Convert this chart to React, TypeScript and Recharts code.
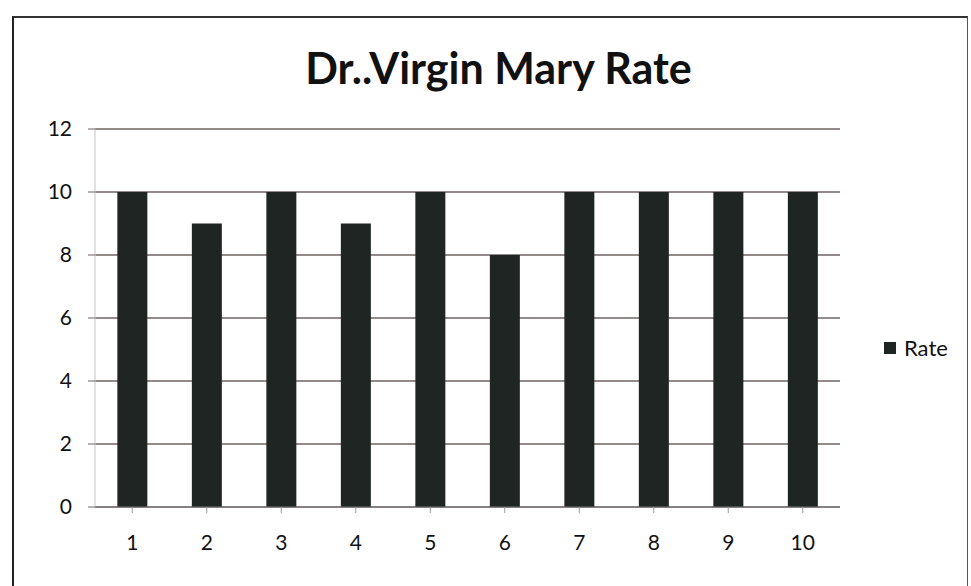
import { BarChart, Bar, XAxis, YAxis, CartesianGrid } from 'recharts'

const doctors = ['1', '2', '3', '4', '5', '6', '7', '8', '9', '10']
const rates = [10, 9, 10, 9, 10, 8, 10, 10, 10, 10]
const yTicks = [0, 2, 4, 6, 8, 10, 12]

const data = doctors.map((name, i) => ({ name, Rate: rates[i] }))

const font = 'Lato, "Open Sans", sans-serif'
const barColor = '#1f2523'

export default function App() {
  return (
    <div style={{ position: 'absolute', left: 0, top: 0, width: 971, height: 586, background: '#fff', overflow: 'hidden' }}>
      <div
        style={{
          position: 'absolute',
          left: 12,
          top: 16,
          width: 953,
          height: 600,
          borderLeft: '2px solid #222',
          borderTop: '2px solid #333',
          borderRight: '1px solid #555',
        }}
      />
      <div
        style={{
          position: 'absolute',
          left: 0,
          width: 971,
          top: 42,
          textAlign: 'center',
          fontFamily: font,
          fontWeight: 700,
          fontSize: 43,
          color: '#111',
          paddingLeft: 26,
          boxSizing: 'border-box',
        }}
      >
        Dr..Virgin Mary Rate
      </div>
      <div style={{ position: 'absolute', left: 0, top: 0 }}>
        <BarChart
          width={971}
          height={586}
          data={data}
          margin={{ top: 129, right: 131, left: 0, bottom: 29 }}
          barCategoryGap="30%"
        >
          <CartesianGrid vertical={false} stroke="#6e6562" strokeWidth={1.3} />
          <XAxis
            dataKey="name"
            height={50}
            stroke="#777"
            tickLine={{ stroke: '#999' }}
            tickSize={6}
            tickMargin={22}
            tick={{ fill: '#111', fontSize: 21, fontFamily: font }}
          />
          <YAxis
            width={95}
            domain={[0, 12]}
            ticks={yTicks}
            interval={0}
            stroke="#c9c4c2"
            tickLine={{ stroke: '#6e6562' }}
            tickSize={7}
            tickMargin={16}
            tick={{ fill: '#111', fontSize: 21, fontFamily: font }}
          />
          <Bar dataKey="Rate" fill={barColor} isAnimationActive={false} />
        </BarChart>
      </div>
      <div
        style={{
          position: 'absolute',
          left: 884,
          top: 334,
          display: 'flex',
          alignItems: 'center',
          fontFamily: font,
          fontSize: 22,
          color: '#111',
        }}
      >
        <span style={{ width: 12, height: 12, background: barColor, display: 'inline-block', marginRight: 8 }} />
        Rate
      </div>
    </div>
  )
}
